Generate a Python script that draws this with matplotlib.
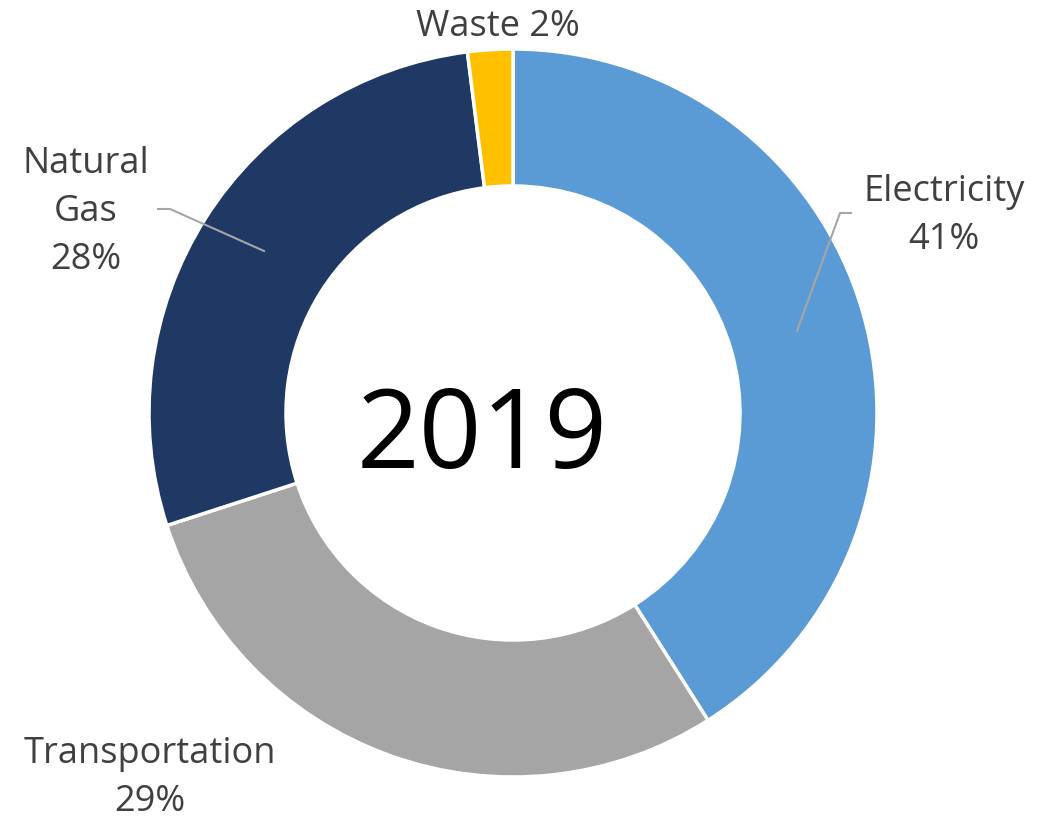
"""2019 emissions by sector — donut chart."""
import matplotlib
matplotlib.use("Agg")
import matplotlib.pyplot as plt

sectors = ["Electricity", "Transportation", "Natural Gas", "Waste"]
shares = [41, 29, 28, 2]
labels = ["Electricity\n41%", "Transportation\n29%", "Natural\nGas\n28%", "Waste 2%"]
colors = ["#5B9BD5", "#A5A5A5", "#203864", "#FFC000"]
year = "2019"

plt.rcParams["font.family"] = ["Open Sans", "DejaVu Sans"]
TXT = "#404040"
H = 823

fig = plt.figure(figsize=(10.5, 8.23), dpi=100)
ax = fig.add_axes([0, 0, 1, 1])

cx, cy, r = 513, H - 413, 364
ax.pie(shares, colors=colors, startangle=90, counterclock=False,
       center=(cx, cy), radius=r, frame=True,
       wedgeprops=dict(width=137, edgecolor="white", linewidth=2.5))
ax.set_xlim(0, 1050)
ax.set_ylim(0, H)
ax.axis("off")

ax.text(482, H - 468, year, ha="center", va="baseline", fontsize=79, color="black")

# labels (pixel positions of each label block centre)
pos = {"Electricity": (944, 216), "Transportation": (150, 778),
       "Natural Gas": (86, 212), "Waste": (498, 27)}
for s, lab in zip(sectors, labels):
    x, y = pos[s]
    ax.text(x, H - y, lab, ha="center", va="center", fontsize=26,
            color=TXT, linespacing=1.45)

# leader lines
ax.plot([158, 170, 264], [H - 209, H - 209, H - 251], color="#A6A6A6", lw=1.5)
ax.plot([851, 840, 797], [H - 213, H - 213, H - 331], color="#A6A6A6", lw=1.5)

fig.savefig("out.png", dpi=100)
